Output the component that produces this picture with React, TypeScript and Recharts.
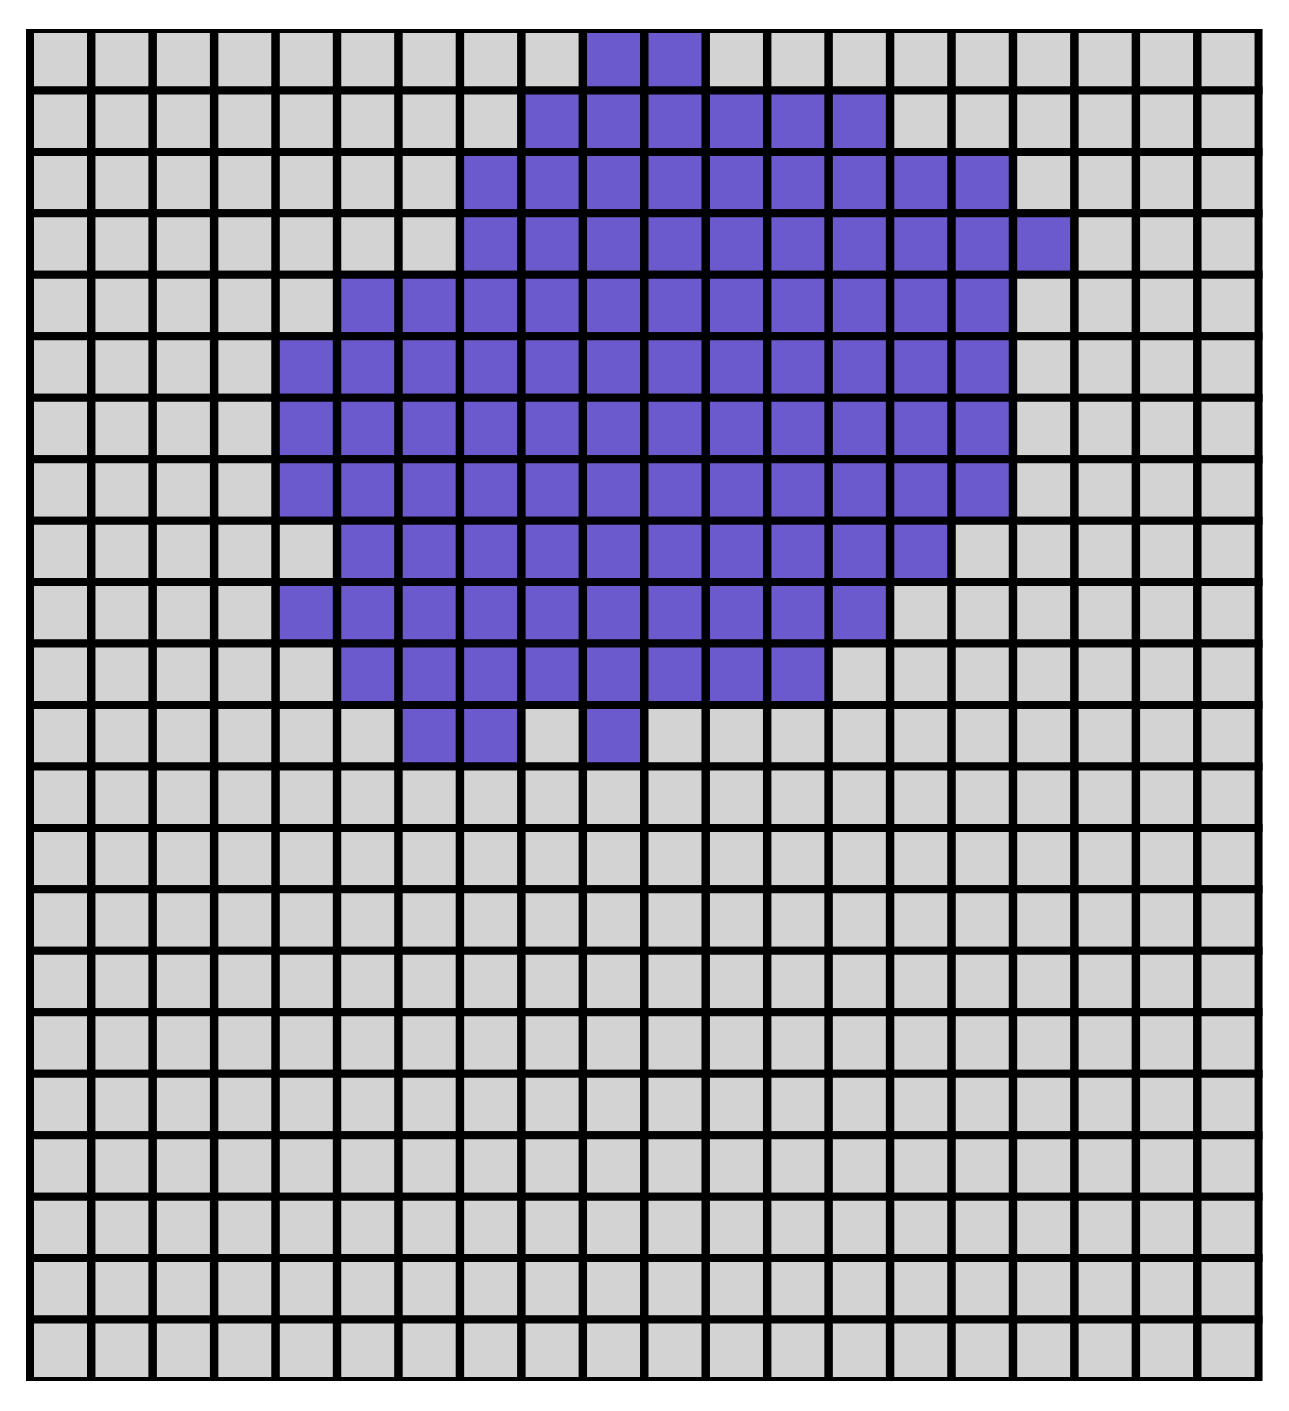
import React from "react";
import { BarChart, Bar, XAxis, YAxis, Cell } from "recharts";

const COLUMN_COUNT = 20;
const ROW_COUNT = 22;
const columns: number[] = Array.from({ length: COLUMN_COUNT }, (_, i) => i);
const rows: number[] = Array.from({ length: ROW_COUNT }, (_, i) => i);

// filled (highlighted) column ranges per row, top row first
const filledRanges: [number, number][][] = [
  [[9, 10]],
  [[8, 13]],
  [[7, 15]],
  [[7, 16]],
  [[5, 15]],
  [[4, 15]],
  [[4, 15]],
  [[4, 15]],
  [[5, 14]],
  [[4, 13]],
  [[5, 12]],
  [[6, 7], [9, 9]],
];

const EMPTY_COLOR = "#d3d3d3";
const FILL_COLOR = "#6a5acd";

const isFilled = (row: number, col: number): boolean =>
  (filledRanges[row] || []).some(([a, b]) => col >= a && col <= b);

const data = columns.map((c) => {
  const d: Record<string, number | string> = { col: String(c) };
  rows.forEach((r) => {
    d["r" + r] = 1;
  });
  return d;
});

export default function App() {
  return (
    <BarChart
      width={1273}
      height={1395}
      data={data}
      margin={{ top: 21, right: 22, bottom: 22, left: 22 }}
      barCategoryGap={0}
      barGap={0}
    >
      <XAxis dataKey="col" hide />
      <YAxis type="number" domain={[0, ROW_COUNT]} reversed hide allowDataOverflow />
      {rows.map((r) => (
        <Bar
          key={r}
          dataKey={"r" + r}
          stackId="grid"
          stroke="#000"
          strokeWidth={8}
          isAnimationActive={false}
        >
          {columns.map((c) => (
            <Cell key={c} fill={isFilled(r, c) ? FILL_COLOR : EMPTY_COLOR} />
          ))}
        </Bar>
      ))}
    </BarChart>
  );
}
